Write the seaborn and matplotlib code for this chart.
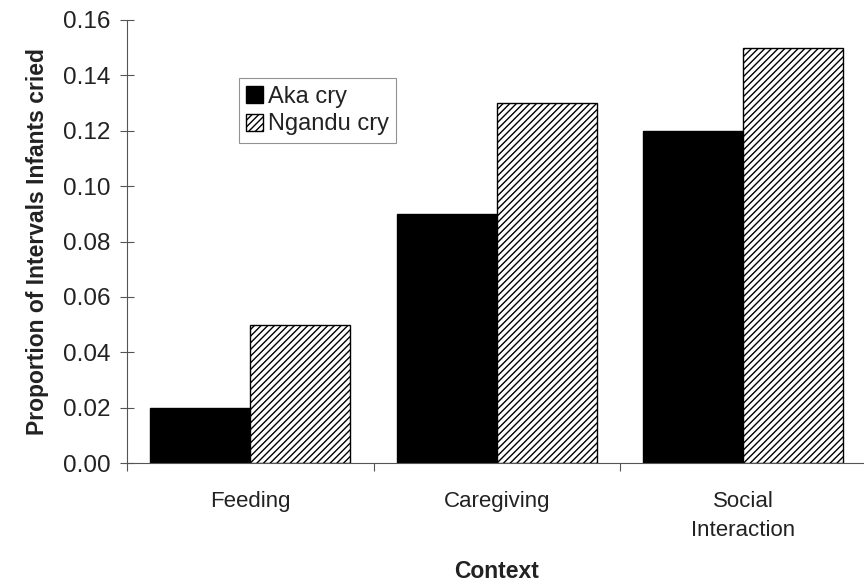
import numpy as np
import matplotlib
matplotlib.use("Agg")
import matplotlib.pyplot as plt
import pandas as pd
import seaborn as sns

contexts = ["Feeding", "Caregiving", "Social\nInteraction"]
aka_cry = [0.02, 0.09, 0.12]
ngandu_cry = [0.05, 0.13, 0.15]
series = ["Aka cry", "Ngandu cry"]
yticks = [0.00, 0.02, 0.04, 0.06, 0.08, 0.10, 0.12, 0.14, 0.16]

df = pd.DataFrame({
    "Context": contexts * 2,
    "value": aka_cry + ngandu_cry,
    "group": [series[0]] * 3 + [series[1]] * 3,
})

sns.set_style("white")
plt.rcParams['font.family'] = ['Liberation Sans', 'DejaVu Sans']
plt.rcParams['hatch.linewidth'] = 1.0

fig = plt.figure(figsize=(8.64, 5.87), dpi=100)
ax = fig.add_axes([0.147, 0.211, 0.856, 0.755])
sns.barplot(data=df, x="Context", y="value", hue="group", ax=ax,
            palette=["black", "white"], width=0.81, edgecolor="black",
            linewidth=1.0, saturation=1)
for bar in ax.containers[1]:
    bar.set_hatch("/////")

ax.set_ylim(0, 0.16)
ax.set_xlim(-0.5, 2.5)
ax.set_yticks(yticks)
ax.set_yticklabels([f"{v:.2f}" for v in yticks])
ax.set_xticks([-0.5, 0.5, 1.5, 2.5], minor=True)
ax.tick_params(axis="y", which="major", direction="inout", length=10, width=0.8,
               left=True, labelsize=17.5, pad=7, colors="#555555", labelcolor="#222222")
ax.tick_params(axis="x", which="major", length=0, labelsize=16, pad=20, labelcolor="#222222")
ax.tick_params(axis="x", which="minor", direction="out", length=6, width=0.8,
               bottom=True, colors="#555555")
for lab in ax.get_xticklabels():
    lab.set_linespacing(1.5)
for s in ["top", "right"]:
    ax.spines[s].set_visible(False)
for s in ["left", "bottom"]:
    ax.spines[s].set_color("#555555")
    ax.spines[s].set_linewidth(0.8)

ax.set_ylabel("Proportion of Intervals Infants cried", fontsize=16.5, fontweight="bold",
              labelpad=10, color="#222222")
ax.set_xlabel("Context", fontsize=16.5, fontweight="bold", labelpad=14, color="#222222")

leg = ax.legend(loc="upper left", bbox_to_anchor=(0.151, 0.868), fontsize=17,
                frameon=True, fancybox=False, edgecolor="#777777",
                handlelength=0.75, handleheight=0.75, handletextpad=0.2,
                borderpad=0.3, labelspacing=0.25, borderaxespad=0)
leg.get_frame().set_linewidth(0.8)
leg.legend_handles[1].set_hatch("/////")
for t in leg.get_texts():
    t.set_color("#222222")

fig.savefig("out.png", dpi=100)
